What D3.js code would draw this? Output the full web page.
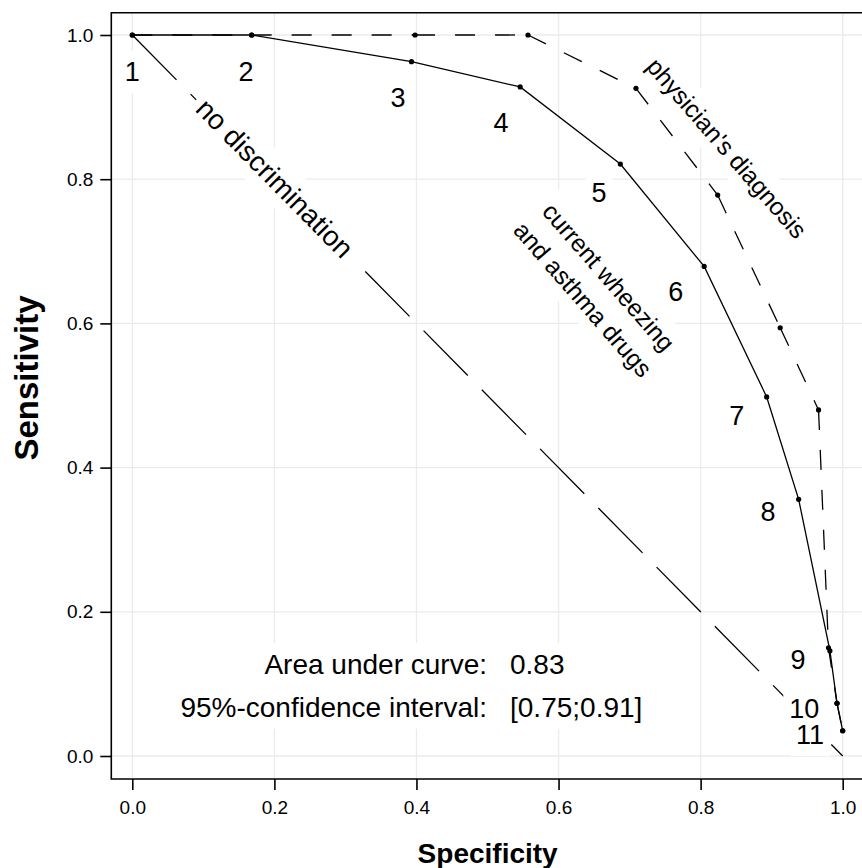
<!DOCTYPE html>
<html>
<head>
<meta charset="utf-8">
<script src="https://cdn.jsdelivr.net/npm/d3@7"></script>
<style>
  html, body { margin: 0; padding: 0; background: #fff; }
  svg { display: block; font-family: "Liberation Sans", Arial, Helvetica, sans-serif; }
</style>
</head>
<body>
<svg id="chart" width="862" height="868"></svg>
<script>
// ---------------- data ----------------
const specWheeze = [0, 0.168, 0.393, 0.546, 0.687, 0.805, 0.893, 0.938, 0.982, 0.992, 1.0];
const sensWheeze = [1, 1, 0.963, 0.928, 0.821, 0.679, 0.498, 0.356, 0.146, 0.073, 0.035];
const specPhysician = [0, 0.168, 0.398, 0.557, 0.709, 0.824, 0.912, 0.966, 0.980, 0.992, 1.0];
const sensPhysician = [1, 1, 1, 1, 0.926, 0.778, 0.594, 0.480, 0.150, 0.073, 0.035];
const pointLabels = ["1","2","3","4","5","6","7","8","9","10","11"];
const xTicks = [0, 0.2, 0.4, 0.6, 0.8, 1.0];
const yTicks = [0, 0.2, 0.4, 0.6, 0.8, 1.0];
const aucLabel = "Area under curve:";
const aucValue = "0.83";
const ciLabel = "95%-confidence interval:";
const ciValue = "[0.75;0.91]";

// label anchor positions (data units), placed near each cut-off point
const labelPosX = [0.0, 0.160, 0.374, 0.519, 0.657, 0.765, 0.851, 0.895, 0.937, 0.946, 0.954];
const labelPosY = [0.950, 0.950, 0.914, 0.879, 0.782, 0.644, 0.473, 0.339, 0.134, 0.066, 0.030];

// ---------------- layout ----------------
const svg = d3.select("#chart");
const panel = { left: 111.3, top: 12.7, right: 864, bottom: 779 };
const x = d3.scaleLinear().domain([0, 1]).range([132.3, 842.7]);
const y = d3.scaleLinear().domain([0, 1]).range([756, 35]);
const FONT = '"Liberation Sans", Arial, Helvetica, sans-serif';
const PAD = 6;

// grid
const grid = svg.append("g").attr("stroke", "#ebebeb").attr("stroke-width", 1.3);
grid.selectAll("line.v").data(xTicks).join("line")
  .attr("x1", d => x(d)).attr("x2", d => x(d))
  .attr("y1", panel.top).attr("y2", panel.bottom);
grid.selectAll("line.h").data(yTicks).join("line")
  .attr("y1", d => y(d)).attr("y2", d => y(d))
  .attr("x1", panel.left).attr("x2", panel.right);

// no discrimination diagonal
svg.append("line")
  .attr("x1", x(0)).attr("y1", y(1)).attr("x2", x(1)).attr("y2", y(0))
  .attr("stroke", "#000").attr("stroke-width", 1.3)
  .attr("stroke-dasharray", "63,20");

// layers: all white boxes first, then all texts
const boxLayer = svg.append("g");
const textLayer = svg.append("g");

function boxedText(cx, cy, angle, lines, fs, lineGap) {
  const tr = `translate(${cx},${cy}) rotate(${angle})`;
  const g = textLayer.append("g").attr("transform", tr);
  const t = g.append("text")
    .attr("font-size", fs).attr("text-anchor", "middle").attr("fill", "#000");
  const n = lines.length;
  lines.forEach((s, i) => {
    t.append("tspan").attr("x", 0)
      .attr("y", (i - (n - 1) / 2) * lineGap + 0.358 * fs)
      .text(s);
  });
  const bb = t.node().getBBox();
  boxLayer.append("rect").attr("transform", tr).attr("fill", "#fff")
    .attr("x", bb.x - PAD).attr("y", bb.y - PAD)
    .attr("width", bb.width + 2 * PAD).attr("height", bb.height + 2 * PAD);
}

// rotated annotation labels
const diagAngle = Math.atan2(y(0) - y(1), x(1) - x(0)) * 180 / Math.PI;
boxedText(275, 178, diagAngle, ["no discrimination"], 28, 0);
boxedText(727, 148, 49, ["physician's diagnosis"], 24.5, 0);
boxedText(596, 288, 49, ["current wheezing", "and asthma drugs"], 24.5, 34);

// numbered point labels
pointLabels.forEach((lab, i) => {
  boxedText(x(labelPosX[i]), y(labelPosY[i]), 0, [lab], 27, 0);
});

// AUC annotation block
(function () {
  const t = textLayer.append("g").attr("font-size", 28).attr("fill", "#000");
  const colR = 487, colL = 510, b1 = 674, b2 = 716.7;
  t.append("text").attr("x", colR).attr("y", b1).attr("text-anchor", "end").text(aucLabel);
  t.append("text").attr("x", colL).attr("y", b1).text(aucValue);
  t.append("text").attr("x", colR).attr("y", b2).attr("text-anchor", "end").text(ciLabel);
  t.append("text").attr("x", colL).attr("y", b2).text(ciValue);
  const bb = t.node().getBBox();
  boxLayer.append("rect").attr("fill", "#fff")
    .attr("x", bb.x - PAD).attr("y", bb.y - PAD)
    .attr("width", bb.width + 2 * PAD).attr("height", bb.height + 2 * PAD);
})();

// ------------- curves -------------
const wheezePts = specWheeze.map((v, i) => [v, sensWheeze[i]]);
const physPts = specPhysician.map((v, i) => [v, sensPhysician[i]]);
const lineGen = d3.line().x(d => x(d[0])).y(d => y(d[1]));

// physician's diagnosis: dashed, pattern restarts on every segment
svg.append("g").selectAll("path").data(d3.pairs(physPts)).join("path")
  .attr("d", d => lineGen(d))
  .attr("fill", "none").attr("stroke", "#000").attr("stroke-width", 1.3)
  .attr("stroke-dasharray", "20,20");

svg.append("path").attr("d", lineGen(wheezePts))
  .attr("fill", "none").attr("stroke", "#000").attr("stroke-width", 1.3);

svg.append("g").selectAll("circle").data(physPts.concat(wheezePts)).join("circle")
  .attr("cx", d => x(d[0])).attr("cy", d => y(d[1])).attr("r", 2.6).attr("fill", "#000");

// ------------- panel border & axes -------------
svg.append("path")
  .attr("d", `M${panel.right},${panel.top}H${panel.left}V${panel.bottom}H${panel.right}`)
  .attr("fill", "none").attr("stroke", "#000").attr("stroke-width", 1.6);

const fmt = d3.format(".1f");
const yAxis = svg.append("g").attr("transform", `translate(${panel.left},0)`)
  .call(d3.axisLeft(y).tickValues(yTicks).tickFormat(fmt).tickSize(11).tickPadding(7));
const xAxis = svg.append("g").attr("transform", `translate(0,${panel.bottom})`)
  .call(d3.axisBottom(x).tickValues(xTicks).tickFormat(fmt).tickSize(11).tickPadding(11));
[xAxis, yAxis].forEach(a => {
  a.select(".domain").remove();
  a.selectAll(".tick line").attr("stroke", "#000").attr("stroke-width", 1.6);
  a.selectAll(".tick text").attr("font-size", 19).attr("font-family", FONT).attr("fill", "#000");
});

// axis titles
svg.append("text")
  .attr("x", (panel.left + panel.right) / 2).attr("y", 863)
  .attr("text-anchor", "middle").attr("font-size", 28).attr("font-weight", "bold")
  .text("Specificity");
svg.append("text")
  .attr("transform", "translate(38,378) rotate(-90)")
  .attr("text-anchor", "middle").attr("font-size", 33).attr("font-weight", "bold")
  .text("Sensitivity");
</script>
</body>
</html>
